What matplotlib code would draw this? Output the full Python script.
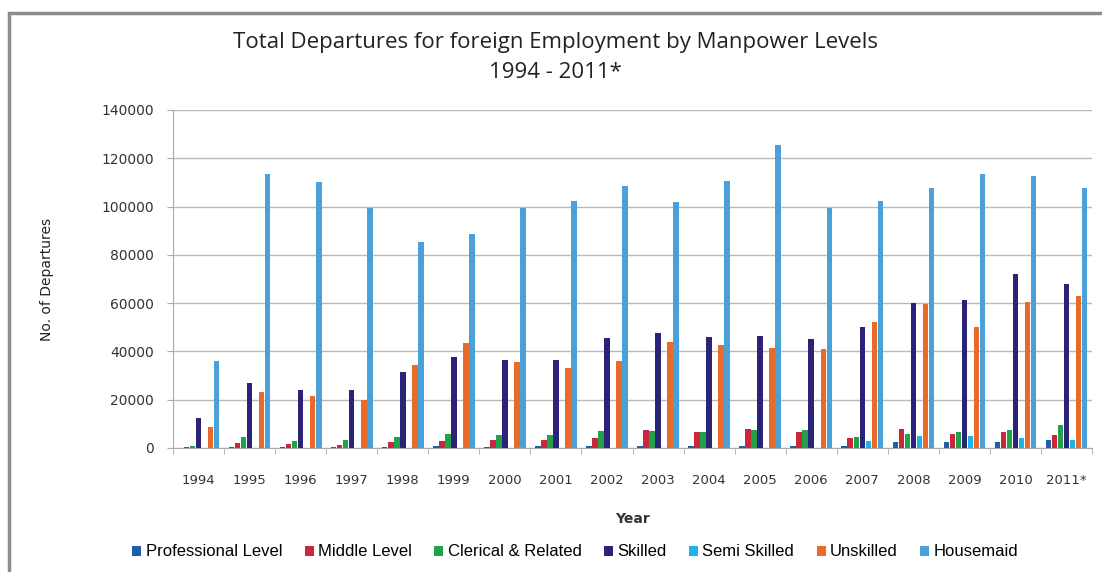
import numpy as np
import matplotlib
matplotlib.use('Agg')
import matplotlib.pyplot as plt
from matplotlib.patches import Rectangle

years = ['1994', '1995', '1996', '1997', '1998', '1999', '2000', '2001', '2002',
         '2003', '2004', '2005', '2006', '2007', '2008', '2009', '2010', '2011*']

professional = [200, 300, 300, 300, 400, 1000, 500, 1000, 1000,
                1000, 1000, 1000, 1000, 1000, 2500, 2500, 2500, 3500]
middle = [500, 2000, 1500, 1200, 2500, 3000, 3500, 3500, 4000,
          7500, 6500, 8000, 6500, 4000, 8000, 6000, 6500, 5500]
clerical = [1000, 4500, 3000, 3500, 4500, 6000, 5500, 5500, 7000,
            7000, 6500, 7500, 7500, 4500, 6000, 6500, 7500, 9500]
skilled = [12500, 27000, 24000, 24000, 31500, 37500, 36500, 36500, 45500,
           47500, 46000, 46500, 45000, 50000, 60000, 61500, 72000, 68000]
semi_skilled = [0, 0, 0, 0, 0, 0, 0, 0, 0,
                0, 0, 0, 0, 3000, 5000, 5000, 4000, 3500]
unskilled = [8500, 23000, 21500, 20000, 34500, 43500, 35500, 33000, 36000,
             44000, 42500, 41500, 41000, 52000, 59500, 50000, 60500, 63000]
housemaid = [36000, 113500, 110000, 99500, 85500, 88500, 99500, 102500, 108500,
             102000, 110500, 125500, 99500, 102500, 107500, 113500, 112500, 107500]

series = [('Professional Level', professional, '#1f5ea8'),
          ('Middle Level', middle, '#c8283a'),
          ('Clerical & Related', clerical, '#22a04a'),
          ('Skilled', skilled, '#2b2378'),
          ('Semi Skilled', semi_skilled, '#1cb4e8'),
          ('Unskilled', unskilled, '#ea6a2a'),
          ('Housemaid', housemaid, '#4aa1da')]

fig = plt.figure(figsize=(11.02, 5.72), dpi=100, facecolor='white')
# grey frame round the chart (only top and left show)
fig.patches.append(Rectangle((0.008, -0.2), 1.2, 1.2 - 13 / 572, transform=fig.transFigure,
                             fill=False, edgecolor='#8c8c8c', linewidth=2.5))

ax = fig.add_axes([0.157, 0.2168, 0.834, 0.5909])
x = np.arange(len(years))
w = 0.118
for i, (name, vals, col) in enumerate(series):
    ax.bar(x + (i - 3) * w, vals, w * 0.92, color=col, label=name, zorder=3)

ax.set_xlim(-0.5, len(years) - 0.5)
ax.set_ylim(0, 140000)
ax.set_yticks(range(0, 140001, 20000))
ax.set_xticks(x)
ax.set_xticklabels(years, fontsize=9.5, color='#333333', family='DejaVu Sans')
ax.set_xticks(np.arange(-0.5, len(years), 1), minor=True)
ax.tick_params(axis='x', which='major', length=0, pad=19)
ax.tick_params(axis='x', which='minor', length=4, color='#aaaaaa', direction='out')
ax.tick_params(axis='y', labelsize=10, labelcolor='#333333', length=4, color='#aaaaaa', pad=10)
ax.grid(axis='y', color='#b8b8b8', linewidth=1, zorder=0)
for s in ['top', 'right']:
    ax.spines[s].set_visible(False)
ax.spines['left'].set_color('#aaaaaa')
ax.spines['bottom'].set_color('#aaaaaa')

ax.set_ylabel('No. of Departures', fontsize=10, color='#222222', labelpad=34)
ax.set_xlabel('Year', fontsize=10, fontweight='bold', color='#333333', labelpad=18)

fig.text(0.504, 0.925, 'Total Departures for foreign Employment by Manpower Levels',
         ha='center', va='center', fontsize=16, color='#222222', family='Open Sans')
fig.text(0.504, 0.873, '1994 - 2011*', ha='center', va='center', fontsize=16,
         color='#222222', family='Open Sans')

fig.legend(loc='center', bbox_to_anchor=(0.522, 0.035), ncol=7, frameon=False,
           handlelength=0.55, handleheight=0.55, handletextpad=0.25,
           columnspacing=1.35, prop={'family': 'Liberation Sans', 'size': 12})

fig.savefig('out.png', dpi=100)
